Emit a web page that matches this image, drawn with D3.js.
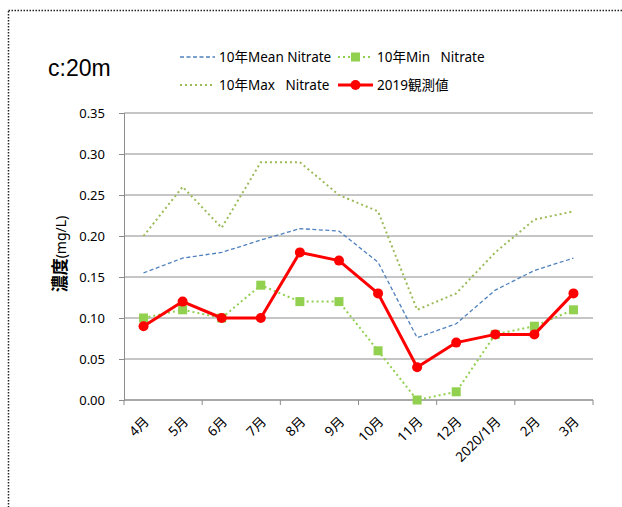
<!DOCTYPE html>
<html>
<head>
<meta charset="utf-8">
<script src="https://cdn.jsdelivr.net/npm/d3@7"></script>
<style>
  body { margin: 0; background: #fff; }
  text { font-family: "Noto Sans", "Noto Sans CJK JP", sans-serif; fill: #000; }
</style>
</head>
<body>
<svg id="chart"></svg>
<script>
(function() {

  const months = ['4月', '5月', '6月', '7月', '8月', '9月', '10月', '11月', '12月', '2020/1月', '2月', '3月']
  const meanNitrate = [0.155, 0.173, 0.180, 0.195, 0.209, 0.206, 0.168, 0.076, 0.093, 0.134, 0.158, 0.173]
  const minNitrate = [0.10, 0.11, 0.10, 0.14, 0.12, 0.12, 0.06, 0.00, 0.01, 0.08, 0.09, 0.11]
  const maxNitrate = [0.20, 0.26, 0.21, 0.29, 0.29, 0.25, 0.23, 0.11, 0.13, 0.18, 0.22, 0.23]
  const observed2019 = [0.09, 0.12, 0.10, 0.10, 0.18, 0.17, 0.13, 0.04, 0.07, 0.08, 0.08, 0.13]
  const yTicks = [0, 0.05, 0.10, 0.15, 0.20, 0.25, 0.30, 0.35]

  const width = 622
  const height = 507
  const plot = {left: 124, right: 593, top: 113, bottom: 400}

  const svg = d3.select('#chart')
    .attr('width', width)
    .attr('height', height)

  // dotted outer frame, runs off the picture on the right and bottom
  svg.append('rect')
    .attr('x', 8.5).attr('y', 10.5)
    .attr('width', 700).attr('height', 600)
    .attr('fill', 'none')
    .attr('stroke', '#222')
    .attr('stroke-width', 1.5)
    .attr('stroke-dasharray', '1.5,1.5')

  const x = d3.scaleBand()
    .domain(months)
    .range([plot.left, plot.right])

  const y = d3.scaleLinear()
    .domain([0, 0.35])
    .range([plot.bottom, plot.top])

  const cx = d => x(d) + x.bandwidth() / 2

  // gridlines
  svg.append('g')
    .selectAll('line')
    .data(yTicks.slice(1))
    .enter()
    .append('line')
    .attr('x1', plot.left).attr('x2', plot.right)
    .attr('y1', d => y(d)).attr('y2', d => y(d))
    .attr('stroke', '#8c8c8c')
    .attr('stroke-width', 1)

  // y axis
  const yAxis = svg.append('g')
    .attr('transform', `translate(${plot.left},0)`)
    .call(d3.axisLeft(y).tickValues(yTicks).tickFormat(d3.format('.2f')).tickSize(5).tickPadding(14))
  yAxis.select('.domain').attr('stroke', '#8c8c8c')
  yAxis.selectAll('.tick line').attr('stroke', '#8c8c8c')
  yAxis.selectAll('text')
    .style('font-size', '13px')
    .style('font-family', '"Noto Sans", sans-serif')

  // x axis, tick marks every two months
  const tickBounds = d3.range(0, months.length + 1, 2)
  const xAxis = svg.append('g')
  xAxis.append('line')
    .attr('x1', plot.left).attr('x2', plot.right)
    .attr('y1', plot.bottom).attr('y2', plot.bottom)
    .attr('stroke', '#8c8c8c').attr('stroke-width', 1.5)
  xAxis.selectAll('.xtick')
    .data(tickBounds)
    .enter()
    .append('line')
    .attr('x1', d => plot.left + d * x.bandwidth())
    .attr('x2', d => plot.left + d * x.bandwidth())
    .attr('y1', plot.bottom).attr('y2', plot.bottom + 5)
    .attr('stroke', '#8c8c8c')
  xAxis.selectAll('.xlabel')
    .data(months)
    .enter()
    .append('text')
    .attr('transform', d => `translate(${cx(d) + 3},${plot.bottom + 19}) rotate(-45)`)
    .attr('text-anchor', 'end')
    .attr('dy', '0.35em')
    .style('font-size', '13.5px')
    .text(d => d)

  // y axis title
  const yTitle = svg.append('text')
    .attr('transform', 'translate(60,254) rotate(-90)')
    .attr('text-anchor', 'middle')
    .attr('dy', '0.35em')
  yTitle.append('tspan').style('font-size', '17px').style('font-weight', 'bold').text('濃度')
  yTitle.append('tspan').style('font-size', '14px').text('(mg/L)')

  // chart title
  svg.append('text')
    .attr('x', 48).attr('y', 76)
    .style('font-family', '"Liberation Sans", Arial, sans-serif')
    .style('font-size', '23px')
    .text('c:20m')

  const line = d3.line()
    .x((d, i) => cx(months[i]))
    .y(d => y(d))

  svg.append('path')
    .datum(maxNitrate)
    .attr('d', line)
    .attr('fill', 'none')
    .attr('stroke', '#9bbb59')
    .attr('stroke-width', 2)
    .attr('stroke-dasharray', '2,3')

  svg.append('path')
    .datum(meanNitrate)
    .attr('d', line)
    .attr('fill', 'none')
    .attr('stroke', '#4f81bd')
    .attr('stroke-width', 1.3)
    .attr('stroke-dasharray', '4,2.5')

  svg.append('path')
    .datum(minNitrate)
    .attr('d', line)
    .attr('fill', 'none')
    .attr('stroke', '#92d050')
    .attr('stroke-width', 2)
    .attr('stroke-dasharray', '2,3')

  svg.append('g')
    .selectAll('rect')
    .data(minNitrate)
    .enter()
    .append('rect')
    .attr('x', (d, i) => cx(months[i]) - 4.5)
    .attr('y', d => y(d) - 4.5)
    .attr('width', 9).attr('height', 9)
    .attr('fill', '#92d050')

  svg.append('path')
    .datum(observed2019)
    .attr('d', line)
    .attr('fill', 'none')
    .attr('stroke', '#ff0000')
    .attr('stroke-width', 3)
    .attr('stroke-linejoin', 'round')

  svg.append('g')
    .selectAll('circle')
    .data(observed2019)
    .enter()
    .append('circle')
    .attr('cx', (d, i) => cx(months[i]))
    .attr('cy', d => y(d))
    .attr('r', 5)
    .attr('fill', '#ff0000')

  // legend
  const legendItems = [
    {label: '10年Mean Nitrate', color: '#4f81bd', dash: '4,2.5', width: 1.3, marker: null, x: 180, y: 57},
    {label: '10年Min\u00a0\u00a0\u00a0Nitrate', color: '#92d050', dash: '2,3', width: 2, marker: 'square', x: 338, y: 57},
    {label: '10年Max\u00a0\u00a0\u00a0Nitrate', color: '#9bbb59', dash: '2,3', width: 2, marker: null, x: 180, y: 85},
    {label: '2019観測値', color: '#ff0000', dash: null, width: 3, marker: 'circle', x: 338, y: 85}
  ]

  const legend = svg.append('g')
    .selectAll('g')
    .data(legendItems)
    .enter()
    .append('g')
    .attr('transform', d => `translate(${d.x},${d.y})`)

  legend.append('line')
    .attr('x1', 0).attr('x2', 35)
    .attr('stroke', d => d.color)
    .attr('stroke-width', d => d.width)
    .attr('stroke-dasharray', d => d.dash)

  legend.filter(d => d.marker === 'square')
    .append('rect')
    .attr('x', 13).attr('y', -4.5)
    .attr('width', 9).attr('height', 9)
    .attr('fill', d => d.color)

  legend.filter(d => d.marker === 'circle')
    .append('circle')
    .attr('cx', 17.5)
    .attr('r', 5)
    .attr('fill', d => d.color)

  legend.append('text')
    .attr('x', 39)
    .attr('dy', '0.35em')
    .style('font-size', '13.5px')
    .text(d => d.label)

})()
</script>
</body>
</html>
